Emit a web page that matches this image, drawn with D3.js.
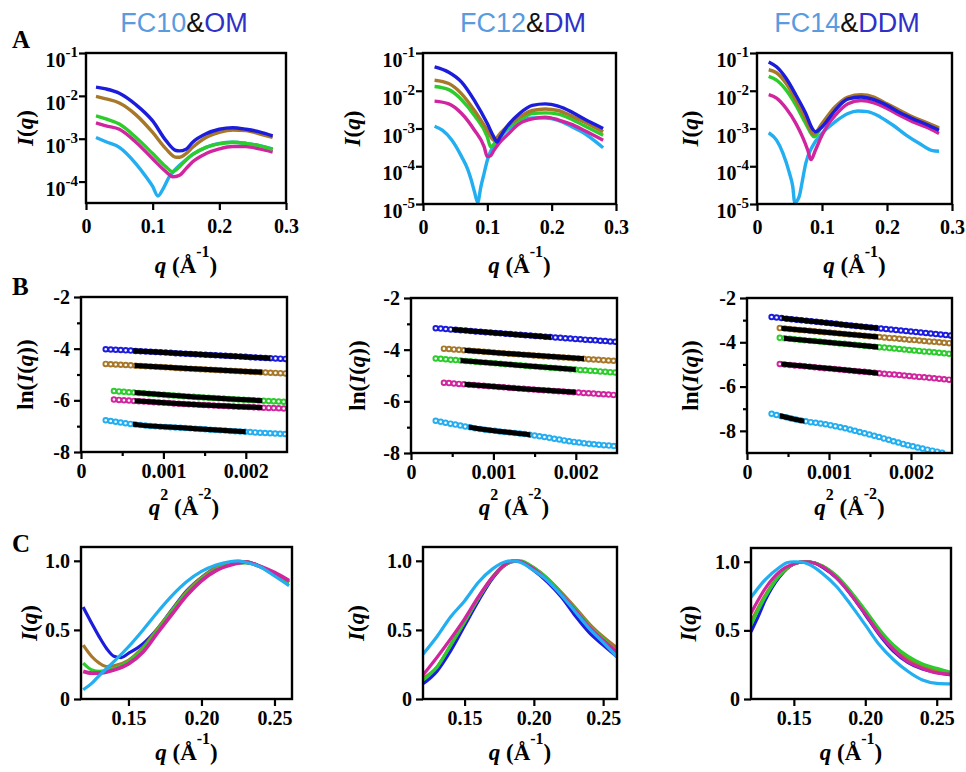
<!DOCTYPE html>
<html>
<head>
<meta charset="utf-8">
<script src="https://cdn.jsdelivr.net/npm/d3@7"></script>
<style>
  body { margin: 0; background: #fff; }
  svg { display: block; }
</style>
</head>
<body>
<svg id="fig" width="966" height="772"></svg>
<script>
// colours of the five samples (same order in every panel)
const seriesNames = ["blue", "brown", "green", "magenta", "cyan"];
const seriesColors = ["#1c1cdc", "#a8782a", "#2bcc2b", "#d0259e", "#22aef0"];
const titleParts = [["FC10", "OM"], ["FC12", "DM"], ["FC14", "DDM"]];

// ---- row A : I(q) vs q, log scale ----
const a1Blue = [[0.015,0.016],[0.03,0.0145],[0.05,0.0115],[0.075,0.0062],[0.1,0.0026],[0.12,0.0009],[0.135,0.00053],[0.14,0.00052],[0.15,0.00057],[0.16,0.00083],[0.18,0.0013],[0.2,0.00166],[0.22,0.0018],[0.24,0.00166],[0.26,0.00145],[0.28,0.00117]];
const a1Brown = [[0.015,0.0097],[0.03,0.0085],[0.05,0.0068],[0.075,0.0036],[0.1,0.0014],[0.12,0.00058],[0.135,0.00037],[0.14,0.00037],[0.15,0.00045],[0.16,0.00063],[0.18,0.00107],[0.2,0.0014],[0.22,0.0016],[0.24,0.00155],[0.26,0.0013],[0.28,0.00107]];
const a1Green = [[0.015,0.0034],[0.03,0.0029],[0.05,0.0022],[0.075,0.00107],[0.1,0.00045],[0.12,0.00022],[0.13,0.00017],[0.14,0.00022],[0.15,0.00032],[0.16,0.00043],[0.18,0.00063],[0.2,0.00076],[0.22,0.00083],[0.24,0.00078],[0.26,0.00069],[0.28,0.00056]];
const a1Magenta = [[0.015,0.00235],[0.03,0.002],[0.05,0.00166],[0.075,0.00083],[0.1,0.00034],[0.12,0.00017],[0.13,0.00013],[0.14,0.00014],[0.15,0.0002],[0.16,0.00029],[0.18,0.00045],[0.2,0.00058],[0.22,0.00066],[0.24,0.00066],[0.26,0.00058],[0.28,0.00049]];
const a1Cyan = [[0.015,0.00107],[0.03,0.00085],[0.05,0.00063],[0.075,0.00026],[0.09,0.00013],[0.1,0.000077],[0.108,0.000046],[0.115,0.000065],[0.125,0.00013],[0.135,0.0002],[0.15,0.00032],[0.16,0.00043],[0.18,0.00063],[0.2,0.00078],[0.22,0.00083],[0.24,0.00078],[0.26,0.00069],[0.28,0.00058]];

const a2Blue = [[0.018,0.043],[0.04,0.031],[0.06,0.017],[0.08,0.0055],[0.1,0.00135],[0.11,0.0006],[0.115,0.00044],[0.12,0.0006],[0.13,0.0011],[0.15,0.0025],[0.17,0.0041],[0.19,0.0045],[0.21,0.0039],[0.23,0.0028],[0.25,0.0018],[0.28,0.001]];
const a2Brown = [[0.018,0.019],[0.04,0.0155],[0.06,0.0083],[0.08,0.003],[0.1,0.0009],[0.11,0.00049],[0.12,0.00074],[0.13,0.0011],[0.15,0.002],[0.17,0.003],[0.19,0.0033],[0.21,0.003],[0.23,0.0022],[0.25,0.0015],[0.28,0.00082]];
const a2Green = [[0.018,0.013],[0.04,0.0107],[0.06,0.0058],[0.08,0.0022],[0.1,0.0006],[0.105,0.00033],[0.115,0.00049],[0.13,0.001],[0.15,0.0017],[0.17,0.0025],[0.19,0.0026],[0.21,0.0024],[0.23,0.0018],[0.25,0.0012],[0.28,0.00066]];
const a2Magenta = [[0.018,0.0053],[0.04,0.0045],[0.06,0.0025],[0.08,0.0009],[0.095,0.00033],[0.1,0.00018],[0.105,0.00019],[0.11,0.00026],[0.12,0.00044],[0.13,0.00065],[0.15,0.00135],[0.17,0.0018],[0.19,0.002],[0.21,0.0017],[0.23,0.0013],[0.25,0.0009],[0.28,0.00049]];
const a2Cyan = [[0.018,0.00115],[0.03,0.0009],[0.045,0.00049],[0.06,0.00018],[0.07,0.000079],[0.075,0.000043],[0.08,0.000021],[0.085,0.000011],[0.09,0.000029],[0.095,0.000065],[0.1,0.000145],[0.11,0.00036],[0.12,0.0006],[0.13,0.0009],[0.15,0.0015],[0.17,0.0019],[0.19,0.0019],[0.21,0.00165],[0.23,0.00115],[0.25,0.00076],[0.28,0.00031]];

const a3Blue = [[0.018,0.058],[0.03,0.043],[0.045,0.021],[0.06,0.0076],[0.075,0.0025],[0.085,0.001],[0.09,0.00082],[0.1,0.0011],[0.11,0.0018],[0.12,0.003],[0.14,0.0061],[0.16,0.0068],[0.18,0.0058],[0.2,0.0041],[0.22,0.0026],[0.24,0.0018],[0.26,0.0013],[0.28,0.0009]];
const a3Brown = [[0.018,0.036],[0.03,0.03],[0.045,0.0155],[0.06,0.0055],[0.075,0.0018],[0.087,0.0007],[0.1,0.00135],[0.12,0.0037],[0.14,0.0068],[0.16,0.0078],[0.18,0.0068],[0.2,0.0045],[0.22,0.003],[0.24,0.002],[0.26,0.00145],[0.28,0.00105]];
const a3Green = [[0.018,0.024],[0.03,0.019],[0.045,0.0103],[0.06,0.0041],[0.075,0.00135],[0.088,0.0006],[0.1,0.0012],[0.12,0.0033],[0.14,0.0061],[0.16,0.007],[0.18,0.0061],[0.2,0.0043],[0.22,0.0028],[0.24,0.0019],[0.26,0.0014],[0.28,0.001]];
const a3Magenta = [[0.018,0.0079],[0.03,0.0064],[0.045,0.0034],[0.06,0.00135],[0.07,0.0006],[0.078,0.00027],[0.083,0.00015],[0.09,0.00027],[0.1,0.00066],[0.11,0.00135],[0.12,0.0022],[0.14,0.0045],[0.16,0.0055],[0.18,0.0048],[0.2,0.0034],[0.22,0.0022],[0.24,0.0015],[0.26,0.0011],[0.28,0.00074]];
const a3Cyan = [[0.018,0.00077],[0.03,0.00049],[0.04,0.00022],[0.05,0.000065],[0.055,0.000029],[0.058,0.000011],[0.065,0.000016],[0.07,0.000043],[0.075,0.00012],[0.085,0.00033],[0.1,0.00074],[0.12,0.0015],[0.14,0.0025],[0.155,0.0029],[0.17,0.0028],[0.19,0.002],[0.21,0.0012],[0.23,0.00066],[0.25,0.0004],[0.27,0.00026],[0.28,0.00025]];

// ---- row B : Guinier plots ln(I) vs q^2, with fitted range in black ----
const b1Blue = [[0.0003,-4.02],[0.0013,-4.2],[0.0025,-4.4]];
const b1Brown = [[0.0003,-4.59],[0.0013,-4.77],[0.0025,-4.96]];
const b1Green = [[0.0004,-5.64],[0.0013,-5.85],[0.0025,-6.06]];
const b1Magenta = [[0.0004,-5.97],[0.0013,-6.15],[0.0025,-6.32]];
const b1Cyan = [[0.0003,-6.77],[0.0007,-6.95],[0.0013,-7.08],[0.002,-7.22],[0.0025,-7.31]];
const b1Fit = [[0.00063,0.0023],[0.00065,0.0022],[0.00065,0.0022],[0.00065,0.0022],[0.00063,0.002]];

const b2Blue = [[0.0003,-3.17],[0.0013,-3.42],[0.0025,-3.7]];
const b2Brown = [[0.0004,-3.96],[0.0013,-4.18],[0.0025,-4.44]];
const b2Green = [[0.0003,-4.34],[0.0013,-4.6],[0.0025,-4.89]];
const b2Magenta = [[0.0004,-5.28],[0.0013,-5.5],[0.0025,-5.76]];
const b2Cyan = [[0.0003,-6.75],[0.0008,-7.05],[0.0015,-7.32],[0.002,-7.58],[0.0025,-7.74]];
const b2Fit = [[0.0005,0.0017],[0.00065,0.0021],[0.0006,0.002],[0.00065,0.002],[0.0007,0.00145]];

const b3Blue = [[0.0003,-2.86],[0.0013,-3.25],[0.0025,-3.7]];
const b3Brown = [[0.0004,-3.36],[0.0013,-3.66],[0.0025,-4.05]];
const b3Green = [[0.0004,-3.8],[0.0013,-4.11],[0.0025,-4.53]];
const b3Magenta = [[0.0004,-4.98],[0.0013,-5.29],[0.0025,-5.7]];
const b3Cyan = [[0.0003,-7.23],[0.0007,-7.56],[0.001,-7.73],[0.0015,-8.17],[0.002,-8.68],[0.0024,-9.0]];
const b3Fit = [[0.00042,0.0016],[0.00042,0.0016],[0.00045,0.0016],[0.00042,0.0016],[0.0004,0.0007]];

// ---- row C : normalised correlation peak ----
const c1Blue = [[0.119,0.665],[0.125,0.545],[0.13,0.45],[0.135,0.366],[0.14,0.31],[0.145,0.3],[0.15,0.33],[0.16,0.4],[0.17,0.51],[0.18,0.65],[0.19,0.785],[0.2,0.88],[0.21,0.95],[0.22,0.985],[0.23,0.995],[0.24,0.96],[0.25,0.9],[0.26,0.845]];
const c1Brown = [[0.119,0.39],[0.125,0.306],[0.13,0.26],[0.135,0.235],[0.14,0.24],[0.15,0.28],[0.16,0.375],[0.17,0.51],[0.18,0.645],[0.19,0.78],[0.2,0.88],[0.21,0.95],[0.22,0.985],[0.23,0.995],[0.24,0.96],[0.25,0.9],[0.26,0.845]];
const c1Green = [[0.119,0.26],[0.125,0.21],[0.13,0.2],[0.14,0.22],[0.15,0.27],[0.16,0.366],[0.17,0.5],[0.18,0.64],[0.19,0.77],[0.2,0.87],[0.21,0.94],[0.22,0.98],[0.23,0.985],[0.24,0.96],[0.25,0.9],[0.26,0.845]];
const c1Magenta = [[0.119,0.2],[0.125,0.187],[0.13,0.187],[0.14,0.21],[0.15,0.254],[0.16,0.34],[0.17,0.48],[0.18,0.617],[0.19,0.75],[0.2,0.856],[0.21,0.93],[0.22,0.97],[0.23,0.99],[0.24,0.96],[0.25,0.915],[0.26,0.856]];
const c1Cyan = [[0.119,0.067],[0.125,0.115],[0.13,0.17],[0.14,0.27],[0.15,0.378],[0.16,0.5],[0.17,0.63],[0.18,0.75],[0.19,0.85],[0.2,0.923],[0.21,0.97],[0.22,0.995],[0.225,1.0],[0.23,0.99],[0.24,0.957],[0.25,0.89],[0.26,0.82]];

const c2Blue = [[0.12,0.11],[0.13,0.2],[0.14,0.35],[0.15,0.53],[0.16,0.71],[0.17,0.87],[0.18,0.975],[0.185,1.0],[0.19,0.995],[0.2,0.93],[0.21,0.845],[0.22,0.736],[0.23,0.6],[0.24,0.48],[0.25,0.39],[0.26,0.305]];
const c2Brown = [[0.12,0.15],[0.13,0.23],[0.14,0.39],[0.15,0.556],[0.16,0.73],[0.17,0.88],[0.18,0.975],[0.188,1.0],[0.19,0.995],[0.2,0.95],[0.21,0.87],[0.22,0.77],[0.23,0.66],[0.24,0.544],[0.25,0.45],[0.26,0.37]];
const c2Green = [[0.12,0.137],[0.13,0.23],[0.14,0.39],[0.15,0.56],[0.16,0.73],[0.17,0.88],[0.18,0.98],[0.19,1.0],[0.2,0.95],[0.21,0.87],[0.22,0.76],[0.23,0.65],[0.24,0.53],[0.25,0.436],[0.26,0.34]];
const c2Magenta = [[0.12,0.173],[0.13,0.3],[0.14,0.436],[0.15,0.58],[0.16,0.74],[0.17,0.88],[0.18,0.98],[0.185,1.0],[0.19,0.995],[0.2,0.94],[0.21,0.856],[0.22,0.755],[0.23,0.64],[0.24,0.52],[0.25,0.425],[0.26,0.34]];
const c2Cyan = [[0.12,0.324],[0.13,0.45],[0.14,0.595],[0.15,0.71],[0.16,0.845],[0.17,0.94],[0.18,0.995],[0.185,1.0],[0.19,0.99],[0.2,0.93],[0.21,0.856],[0.22,0.75],[0.23,0.63],[0.24,0.51],[0.25,0.41],[0.26,0.305]];

const c3Blue = [[0.12,0.49],[0.125,0.6],[0.13,0.72],[0.14,0.89],[0.15,0.983],[0.158,1.0],[0.165,0.99],[0.17,0.96],[0.18,0.88],[0.19,0.76],[0.2,0.614],[0.21,0.466],[0.22,0.345],[0.23,0.265],[0.24,0.218],[0.25,0.194],[0.26,0.175]];
const c3Brown = [[0.12,0.563],[0.13,0.757],[0.14,0.9],[0.15,0.983],[0.158,1.0],[0.17,0.97],[0.18,0.89],[0.19,0.775],[0.2,0.636],[0.21,0.49],[0.22,0.374],[0.23,0.29],[0.24,0.235],[0.25,0.206],[0.26,0.187]];
const c3Green = [[0.12,0.54],[0.13,0.745],[0.14,0.9],[0.15,0.985],[0.158,1.0],[0.17,0.97],[0.18,0.896],[0.19,0.78],[0.2,0.647],[0.21,0.505],[0.22,0.39],[0.23,0.31],[0.24,0.255],[0.25,0.223],[0.26,0.194]];
const c3Magenta = [[0.12,0.625],[0.13,0.806],[0.14,0.927],[0.15,0.985],[0.158,1.0],[0.17,0.964],[0.18,0.88],[0.19,0.76],[0.2,0.62],[0.21,0.473],[0.22,0.357],[0.23,0.27],[0.24,0.223],[0.25,0.19],[0.26,0.18]];
const c3Cyan = [[0.12,0.74],[0.13,0.87],[0.14,0.96],[0.145,0.993],[0.15,1.0],[0.155,0.998],[0.16,0.983],[0.17,0.915],[0.18,0.818],[0.19,0.684],[0.2,0.54],[0.21,0.393],[0.22,0.284],[0.23,0.2],[0.24,0.138],[0.25,0.114],[0.26,0.11]];

const rowA = [[a1Blue,a1Brown,a1Green,a1Magenta,a1Cyan],[a2Blue,a2Brown,a2Green,a2Magenta,a2Cyan],[a3Blue,a3Brown,a3Green,a3Magenta,a3Cyan]];
const rowB = [[b1Blue,b1Brown,b1Green,b1Magenta,b1Cyan],[b2Blue,b2Brown,b2Green,b2Magenta,b2Cyan],[b3Blue,b3Brown,b3Green,b3Magenta,b3Cyan]];
const rowBFit = [b1Fit, b2Fit, b3Fit];
const rowC = [[c1Blue,c1Brown,c1Green,c1Magenta,c1Cyan],[c2Blue,c2Brown,c2Green,c2Magenta,c2Cyan],[c3Blue,c3Brown,c3Green,c3Magenta,c3Cyan]];

// ---------------------------------------------------------------
const svg = d3.select("#fig");
const serif = "'Liberation Serif','Times New Roman',serif";
const sans = "'Liberation Sans',Arial,sans-serif";
let clipId = 0;

// plot boxes [left, right, top, bottom]
const boxA = [[86,286,53,203],[423,616,53,204],[757,952,53,204]];
const boxB = [[81,287,297,452],[411,617,298,453],[747,952,298,453]];
const boxC = [[81,292,547,699],[423,617,547,699],[751,951,548,699]];
const yTitleX = [[25,352,690],[25,357,690],[29,356,688]];

function clipFor(box) {
  const id = "clip" + (clipId++);
  svg.append("clipPath").attr("id", id).append("rect")
    .attr("x", box[0]).attr("y", box[2]).attr("width", box[1] - box[0]).attr("height", box[3] - box[2]);
  return "url(#" + id + ")";
}

function styleAxis(g) {
  g.select(".domain").remove();
  g.selectAll("line").attr("stroke", "#000").attr("stroke-width", 2.2);
  g.selectAll("text").attr("font-family", serif).attr("font-weight", "bold")
    .attr("font-size", 20).attr("fill", "#000");
}

function xAxis(box, x, ticks, fmt, minor, pad) {
  if (minor) {
    const m = svg.append("g").attr("transform", `translate(0,${box[3]})`)
      .call(d3.axisBottom(x).tickValues(minor).tickFormat("").tickSize(4));
    styleAxis(m);
  }
  const g = svg.append("g").attr("transform", `translate(0,${box[3]})`)
    .call(d3.axisBottom(x).tickValues(ticks).tickFormat(fmt).tickSize(7).tickPadding(pad));
  styleAxis(g);
}

function yAxis(box, y, ticks, fmt, minor) {
  if (minor) {
    const m = svg.append("g").attr("transform", `translate(${box[0]},0)`)
      .call(d3.axisLeft(y).tickValues(minor).tickFormat("").tickSize(4));
    styleAxis(m);
  }
  const g = svg.append("g").attr("transform", `translate(${box[0]},0)`)
    .call(d3.axisLeft(y).tickValues(ticks).tickFormat(fmt).tickSize(7).tickPadding(4));
  styleAxis(g);
  return g;
}

function frame(box) {
  svg.append("rect").attr("x", box[0]).attr("y", box[2])
    .attr("width", box[1] - box[0]).attr("height", box[3] - box[2])
    .attr("fill", "none").attr("stroke", "#000").attr("stroke-width", 2.4);
}

function yTitle(cx, cy, parts) {
  const t = svg.append("text").attr("transform", `translate(${cx},${cy}) rotate(-90)`)
    .attr("text-anchor", "middle").attr("dy", "0.35em")
    .attr("font-family", serif).attr("font-weight", "bold").attr("font-size", 23);
  parts.forEach(p => t.append("tspan").attr("font-style", p[1] ? "italic" : "normal").text(p[0]));
}

function xTitle(cx, baseline, sup1, sup2) {
  const t = svg.append("text").attr("x", cx).attr("y", baseline).attr("text-anchor", "middle")
    .attr("font-family", serif).attr("font-weight", "bold").attr("font-size", 23);
  t.append("tspan").attr("font-style", "italic").text("q");
  if (sup1) t.append("tspan").attr("font-size", 16).attr("dy", -15).text(sup1);
  t.append("tspan").attr("dy", sup1 ? 15 : 0).text(" (Å");
  t.append("tspan").attr("font-size", 16).attr("dy", -16).text(sup2);
  t.append("tspan").attr("dy", 16).text(")");
}

const hyphen = v => String(v).replace("\u2212", "-");

// ---------------- titles and panel letters ----------------
const titleX = [184, 523, 847];
titleParts.forEach((tp, i) => {
  const t = svg.append("text").attr("x", titleX[i]).attr("y", 32).attr("text-anchor", "middle")
    .attr("font-family", sans).attr("font-size", 27);
  t.append("tspan").attr("fill", "#5a9be0").text(tp[0]);
  t.append("tspan").attr("fill", "#111").text("&");
  t.append("tspan").attr("fill", "#3030c8").text(tp[1]);
});
[["A", 12, 48], ["B", 12, 295], ["C", 12, 552]].forEach(l => {
  svg.append("text").attr("x", l[1]).attr("y", l[2]).text(l[0])
    .attr("font-family", serif).attr("font-weight", "bold").attr("font-size", 25);
});

// ---------------- row A ----------------
rowA.forEach((series, i) => {
  const box = boxA[i];
  const x = d3.scaleLinear().domain([0, 0.3]).range([box[0], box[1]]);
  const yMin = i === 0 ? Math.pow(10, -4.5) : 1e-5;
  const y = d3.scaleLog().domain([yMin, 0.1]).range([box[3], box[2]]);
  const line = d3.line().x(d => x(d[0])).y(d => y(d[1])).curve(d3.curveMonotoneX);
  const clip = clipFor(box);
  const order = [4, 3, 2, 1, 0];
  order.forEach(k => {
    svg.append("path").attr("clip-path", clip).attr("d", line(series[k]))
      .attr("fill", "none").attr("stroke", seriesColors[k]).attr("stroke-width", 3.4)
      .attr("stroke-linejoin", "round");
  });
  xAxis(box, x, [0, 0.1, 0.2, 0.3], d => d === 0 ? "0" : d3.format(".1f")(d), null, 9);
  const decades = i === 0 ? [1e-1, 1e-2, 1e-3, 1e-4] : [1e-1, 1e-2, 1e-3, 1e-4, 1e-5];
  yAxis(box, y, decades, "");
  decades.forEach(v => {
    const t = svg.append("text").attr("x", box[0] - 8).attr("y", y(v) + 14)
      .attr("text-anchor", "end").attr("font-family", serif).attr("font-weight", "bold")
      .attr("font-size", 20);
    t.append("tspan").text("10");
    t.append("tspan").attr("font-size", 15).attr("dy", -10).text("-" + Math.round(-Math.log10(v)));
  });
  frame(box);
  yTitle(yTitleX[0][i], (box[2] + box[3]) / 2, [["I", 1], ["(", 0], ["q", 1], [")", 0]]);
  xTitle((box[0] + box[1]) / 2, 273, null, "-1");
});

// ---------------- row B ----------------
rowB.forEach((series, i) => {
  const box = boxB[i];
  const x = d3.scaleLinear().domain([0, 0.0025]).range([box[0], box[1]]);
  const yLo = i === 2 ? -9 : -8;
  const y = d3.scaleLinear().domain([yLo, -2]).range([box[3], box[2]]);
  const line = d3.line().x(d => x(d[0])).y(d => y(d[1])).curve(d3.curveMonotoneX);
  const clip = clipFor(box);
  series.forEach((pts, k) => {
    const d = line(pts);
    svg.append("path").attr("clip-path", clip).attr("d", d).attr("fill", "none")
      .attr("stroke", seriesColors[k]).attr("stroke-width", 6.5)
      .attr("stroke-linecap", "round").attr("stroke-dasharray", "0 5");
    svg.append("path").attr("clip-path", clip).attr("d", d).attr("fill", "none")
      .attr("stroke", "#fff").attr("stroke-width", 2.6)
      .attr("stroke-linecap", "round").attr("stroke-dasharray", "0 5");
    // fitted Guinier range drawn in black
    const f = rowBFit[i][k];
    const fid = "fit" + i + "_" + k;
    svg.append("clipPath").attr("id", fid).append("rect")
      .attr("x", x(f[0])).attr("y", box[2]).attr("width", x(f[1]) - x(f[0])).attr("height", box[3] - box[2]);
    svg.append("path").attr("clip-path", `url(#${fid})`).attr("d", d).attr("fill", "none")
      .attr("stroke", "#000").attr("stroke-width", 5);
  });
  xAxis(box, x, [0, 0.001, 0.002], d => d === 0 ? "0" : d3.format(".3f")(d), [0.0005, 0.0015], 5);
  yAxis(box, y, [-2, -4, -6, -8], d => hyphen(d), [-3, -5, -7]);
  frame(box);
  yTitle(yTitleX[1][i], (box[2] + box[3]) / 2,
    [["ln(", 0], ["I", 1], ["(", 0], ["q", 1], ["))", 0]]);
  xTitle((box[0] + box[1]) / 2, 515, "2", "-2");
});

// ---------------- row C ----------------
rowC.forEach((series, i) => {
  const box = boxC[i];
  const xDom = i === 0 ? [0.1175, 0.262] : [0.12, 0.26];
  const x = d3.scaleLinear().domain(xDom).range([box[0], box[1]]);
  const y = d3.scaleLinear().domain([0, 1.1]).range([box[3], box[2]]);
  const line = d3.line().x(d => x(d[0])).y(d => y(d[1])).curve(d3.curveMonotoneX);
  const clip = clipFor(box);
  series.forEach((pts, k) => {
    svg.append("path").attr("clip-path", clip).attr("d", line(pts))
      .attr("fill", "none").attr("stroke", seriesColors[k])
      .attr("stroke-width", k === 3 && i === 0 ? 3.8 : 3.2).attr("stroke-linejoin", "round");
  });
  xAxis(box, x, [0.15, 0.2, 0.25], d3.format(".2f"), null, 5);
  yAxis(box, y, [0, 0.5, 1.0], d => d === 0 ? "0" : d3.format(".1f")(d));
  frame(box);
  yTitle(yTitleX[2][i], (box[2] + box[3]) / 2, [["I", 1], ["(", 0], ["q", 1], [")", 0]]);
  xTitle((box[0] + box[1]) / 2, 760, null, "-1");
});
</script>
</body>
</html>
